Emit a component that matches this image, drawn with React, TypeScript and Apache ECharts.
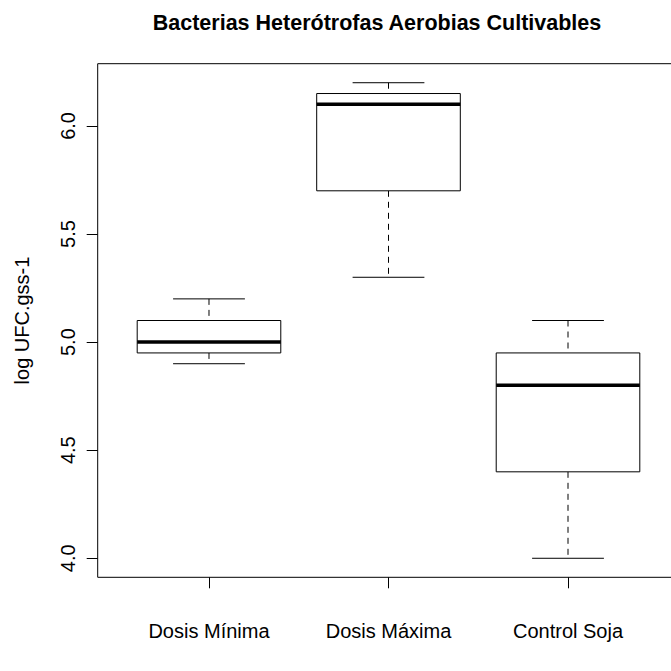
import React, { useEffect, useRef } from "react";
import * as echarts from "echarts";

const categories = ["Dosis Mínima", "Dosis Máxima", "Control Soja"];
const positions = [1, 2, 3];
const whiskerLow = [4.9, 5.3, 4.0];
const quartile1 = [4.95, 5.7, 4.4];
const medians = [5.0, 6.1, 4.8];
const quartile3 = [5.1, 6.15, 4.95];
const whiskerHigh = [5.2, 6.2, 5.1];
const yTicks = [4.0, 4.5, 5.0, 5.5, 6.0];

const FONT = "'Liberation Sans', Arial, Helvetica, sans-serif";
const CHART_W = 700;

export default function App() {
  const ref = useRef<HTMLDivElement>(null);
  useEffect(() => {
    if (!ref.current) return;
    const chart = echarts.init(ref.current, null, { renderer: "svg" });
    const data = positions.map((p, i) => [p, whiskerLow[i], quartile1[i], medians[i], quartile3[i], whiskerHigh[i]]);
    const option: any = {
      animation: false,
      backgroundColor: "#ffffff",
      title: {
        text: "Bacterias Heterótrofas Aerobias Cultivables",
        left: 372,
        top: 7,
        textAlign: "center",
        textStyle: { fontFamily: FONT, fontWeight: "bold", fontSize: 21.5, color: "#000" },
      },
      grid: {
        left: 97.7,
        right: CHART_W - 679.3,
        top: 63.7,
        bottom: 93.7,
        show: true,
        borderColor: "#000",
        borderWidth: 1,
        backgroundColor: "transparent",
      },
      xAxis: {
        type: "value",
        min: 0.38,
        max: 3.62,
        splitLine: { show: false },
        axisLine: { show: false },
        axisTick: { show: true, length: 11, lineStyle: { color: "#000", width: 1 }, customValues: positions },
        axisLabel: {
          show: true,
          customValues: positions,
          margin: 44,
          color: "#000",
          fontFamily: FONT,
          fontSize: 20,
          formatter: (v: number) => categories[Math.round(v) - 1] ?? "",
        },
      },
      yAxis: {
        type: "value",
        min: 3.912,
        max: 6.288,
        name: "log UFC.gss-1",
        nameLocation: "middle",
        nameRotate: 90,
        nameGap: 66,
        nameTextStyle: { fontFamily: FONT, fontSize: 20, color: "#000" },
        splitLine: { show: false },
        axisLine: { show: false },
        axisTick: { show: true, length: 11, lineStyle: { color: "#000", width: 1 }, customValues: yTicks },
        axisLabel: {
          show: true,
          customValues: yTicks,
          rotate: 90,
          margin: 20,
          color: "#000",
          fontFamily: FONT,
          fontSize: 20,
          formatter: (v: number) => v.toFixed(1),
        },
      },
      series: [
        {
          type: "custom",
          data,
          encode: { x: 0, y: [1, 2, 3, 4, 5] },
          renderItem: (params: any, api: any) => {
            const x = api.value(0);
            const lo = api.value(1);
            const q1 = api.value(2);
            const md = api.value(3);
            const q3 = api.value(4);
            const hi = api.value(5);
            const pLo = api.coord([x, lo]);
            const pQ1 = api.coord([x, q1]);
            const pMd = api.coord([x, md]);
            const pQ3 = api.coord([x, q3]);
            const pHi = api.coord([x, hi]);
            const bl = api.coord([x - 0.4, q3]);
            const br = api.coord([x + 0.4, q1]);
            const sl = api.coord([x - 0.2, lo])[0];
            const sr = api.coord([x + 0.2, lo])[0];
            const black = { stroke: "#000", lineWidth: 1, fill: "none" };
            const dashed = { stroke: "#000", lineWidth: 1, lineDash: [6, 5] };
            return {
              type: "group",
              children: [
                { type: "line", shape: { x1: pHi[0], y1: pHi[1], x2: pQ3[0], y2: pQ3[1] }, style: dashed },
                { type: "line", shape: { x1: pQ1[0], y1: pQ1[1], x2: pLo[0], y2: pLo[1] }, style: dashed },
                { type: "line", shape: { x1: sl, y1: pHi[1], x2: sr, y2: pHi[1] }, style: black },
                { type: "line", shape: { x1: sl, y1: pLo[1], x2: sr, y2: pLo[1] }, style: black },
                {
                  type: "rect",
                  shape: { x: bl[0], y: bl[1], width: br[0] - bl[0], height: br[1] - bl[1] },
                  style: { stroke: "#000", lineWidth: 1, fill: "#fff" },
                },
                { type: "line", shape: { x1: bl[0], y1: pMd[1], x2: br[0], y2: pMd[1] }, style: { stroke: "#000", lineWidth: 3.5 } },
              ],
            };
          },
        },
      ],
    };
    chart.setOption(option);
    return () => chart.dispose();
  }, []);
  return (
    <div style={{ position: "absolute", left: 0, top: 0, width: 671, height: 671, overflow: "hidden", background: "#fff" }}>
      <div ref={ref} style={{ width: CHART_W, height: 671 }} />
    </div>
  );
}
